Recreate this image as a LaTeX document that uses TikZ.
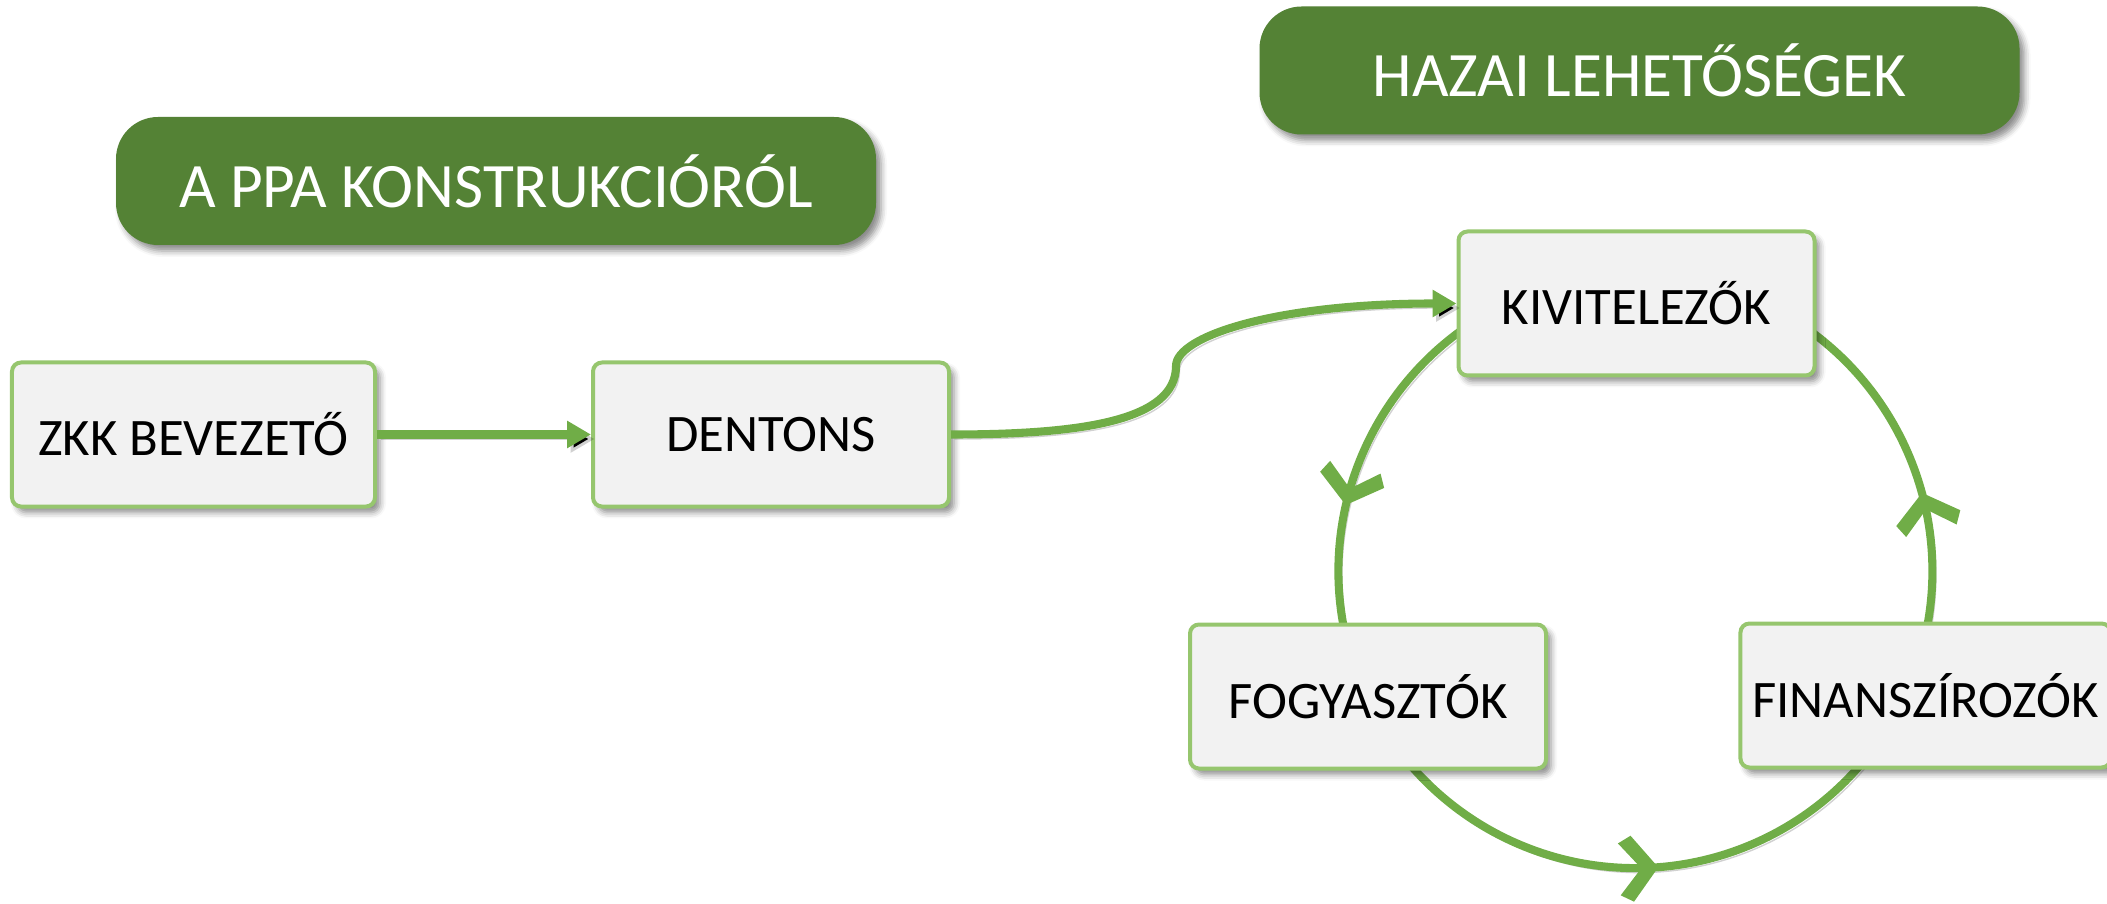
\documentclass[tikz,border=0pt]{standalone}
\usepackage{fontspec}
\setmainfont{Carlito}
\usepackage{tikz}
\usetikzlibrary{arrows.meta,shapes,positioning,calc,decorations.markings,backgrounds,shadows.blur}

\definecolor{hdrGreen}{RGB}{84,130,53}
\definecolor{lineGreen}{RGB}{112,173,71}
\definecolor{boxEdge}{RGB}{150,198,110}
\definecolor{boxFill}{RGB}{242,242,242}

\begin{document}
\begin{tikzpicture}[>=Triangle]
\useasboundingbox (0,0) rectangle (21.07,9.03);
\tikzstyle{every node}=[font=\fontsize{15}{18}\selectfont]
\tikzset{
	stepBox/.style={
		rectangle,
		rounded corners=0.09cm,
		fill=boxFill,
		draw=boxEdge,
		line width=0.04cm,
		minimum width=3.56cm,
		minimum height=1.44cm,
		text=black,
		blur shadow={shadow xshift=0.05cm, shadow yshift=-0.06cm, shadow blur radius=0.06cm, shadow opacity=45}
	},
	header/.style={
		rectangle,
		rounded corners=0.42cm,
		fill=hdrGreen,
		draw=none,
		text=white,
		minimum width=7.6cm,
		minimum height=1.28cm,
		font=\fontsize{18}{22}\selectfont,
		blur shadow={shadow xshift=0.05cm, shadow yshift=-0.06cm, shadow blur radius=0.06cm, shadow opacity=45}
	},
	lineShadow/.style={preaction={draw=black, draw opacity=0.18, transform canvas={shift={(0.035cm,-0.045cm)}}}},
	link/.style={->, draw=lineGreen, line width=2.3pt, lineShadow},
	ring/.style={
		draw=lineGreen,
		line width=2.3pt,
		lineShadow,
		decoration={markings, mark=at position #1 with {
			\fill[lineGreen] (0.07,0) -- (-0.19,0.33) -- (-0.32,0.26) -- (-0.1,0) -- (-0.32,-0.26) -- (-0.19,-0.33) -- cycle;}},
		postaction={decorate}
	}
}

%--------------------------- headers ------------
\node[header] (H1) at (4.96,7.22) {A PPA KONSTRUKCIÓRÓL};
\node[header] (H2) at (16.395,8.325) {HAZAI LEHETŐSÉGEK};

%--------------------------- left chain ------------
\node[stepBox, minimum width=3.63cm] (ZKK) at (1.935,4.685) {ZKK BEVEZETŐ};
\node[stepBox, right=2.14cm of ZKK] (DEN) {DENTONS};

\draw[link, >={Triangle[length=0.24cm, width=0.26cm]}] (ZKK) -- (DEN);

%--------------------------- cycle ------------
\node[stepBox] (KIV) at (16.365,5.995) {KIVITELEZŐK};
\node[stepBox] (FOG) at (13.68,2.065) {FOGYASZTÓK};
\node[stepBox] (FIN) at (19.255,2.075) {FINANSZÍROZÓK};

\coordinate (KINK) at (11.76,5.37);
\draw[link, >={Triangle[length=0.24cm, width=0.26cm]}] (DEN.east)
	.. controls +(1.3,0) and +(0,-0.55) .. (KINK)
	.. controls +(0,0.3) and +(-1.8,0) .. (KIV.west);

\coordinate (RING) at (16.354,3.319);
\begin{scope}[on background layer]
\draw[ring=0.60] ($(RING)+(125:2.97)$) arc[start angle=125, end angle=193, radius=2.97];
\draw[ring=0.53] ($(RING)+(219:2.97)$) arc[start angle=219, end angle=321, radius=2.97];
\draw[ring=0.39] ($(RING)+(347:2.97)$) arc[start angle=347, end angle=416, radius=2.97];
\end{scope}

\end{tikzpicture}
\end{document}
